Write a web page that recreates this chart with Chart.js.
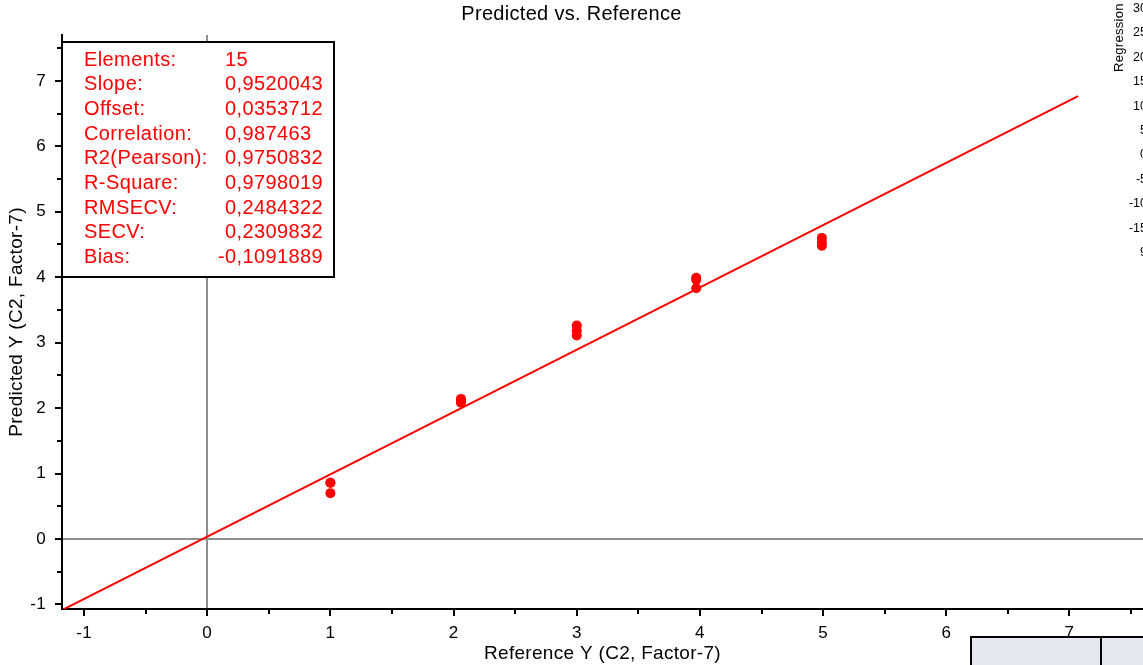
<!DOCTYPE html>
<html>
<head>
<meta charset="utf-8">
<title>Predicted vs. Reference</title>
<script src="https://cdn.jsdelivr.net/npm/chart.js@4/dist/chart.umd.min.js"></script>
<style>
  body { margin: 0; overflow: hidden; background: #fff; width: 1143px; height: 665px; position: relative; }
  #c { position: absolute; left: 0; top: 0; }
  .side { position: absolute; font-family: "Liberation Sans", Arial, sans-serif; color: #000; }
  #regTitle { left: 1080px; top: 30px; font-size: 13px; transform: rotate(-90deg); width: 76px; text-align: center; letter-spacing: 0.3px; }
  #regTicks { left: 1100px; top: -4px; width: 47px; font-size: 12.5px; text-align: right; line-height: 24.4px; }
  .cell { position: absolute; top: 636px; height: 40px; background: #e4e7ef; border: 2px solid #000; box-sizing: border-box; }
</style>
</head>
<body>
<canvas id="c" width="1143" height="665"></canvas>
<div class="side" id="regTitle">Regression</div>
<div class="side" id="regTicks"></div>
<div class="cell" style="left:970px;width:132px"></div>
<div class="cell" style="left:1100px;width:60px"></div>
<script>
// reference values (x) and predicted values (y)
const refY  = [1.0, 1.0, 1.0, 2.06, 2.06, 2.06, 3.0, 3.0, 3.0, 3.97, 3.97, 3.97, 4.99, 4.99, 4.99];
const predY = [0.86, 0.86, 0.70, 2.14, 2.11, 2.08, 3.26, 3.18, 3.11, 3.99, 3.96, 3.83, 4.60, 4.53, 4.48];

// regression line end points
const lineX = [-1.2, 7.07];
const lineY = [-1.107, 6.766];

const xTicks = [-1, 0, 1, 2, 3, 4, 5, 6, 7];
const yTicks = [-1, 0, 1, 2, 3, 4, 5, 6, 7];

const statLabels = ['Elements:', 'Slope:', 'Offset:', 'Correlation:', 'R2(Pearson):', 'R-Square:', 'RMSECV:', 'SECV:', 'Bias:'];
const statValues = ['15', '0,9520043', '0,0353712', '0,987463', '0,9750832', '0,9798019', '0,2484322', '0,2309832', '-0,1091889'];

// the neighbouring regression panel, cut off at the right
const sideTicks = ['30', '25', '20', '15', '10', '5', '0', '-5', '-10', '-15', '9'];
document.getElementById('regTicks').innerHTML = sideTicks.join('<br>');

const FONT = '"Liberation Sans", Arial, sans-serif';
Chart.defaults.font.family = FONT;
Chart.defaults.color = '#000';

// the original font runs a little wider than Liberation Sans
const spacing = {
  id: 'spacing',
  beforeLayout(chart) { chart.ctx.letterSpacing = '0.3px'; },
  beforeDraw(chart) { chart.ctx.letterSpacing = '0.3px'; }
};

const minorTicks = {
  id: 'minorTicks',
  afterDraw(chart) {
    const ctx = chart.ctx;
    const xs = chart.scales.x, ys = chart.scales.y;
    const a = chart.chartArea;
    ctx.save();
    ctx.strokeStyle = '#000';
    ctx.lineWidth = 2;
    ctx.beginPath();
    for (let v = -1.5; v <= xs.max; v += 1) {
      if (v < xs.min) continue;
      const px = Math.round(xs.getPixelForValue(v));
      ctx.moveTo(px, a.bottom);
      ctx.lineTo(px, a.bottom + 5);
    }
    for (let v = -0.5; v <= ys.max; v += 1) {
      if (v < ys.min) continue;
      const py = Math.round(ys.getPixelForValue(v));
      ctx.moveTo(a.left, py);
      ctx.lineTo(a.left - 5, py);
    }
    ctx.stroke();
    ctx.restore();
  }
};

const statsBox = {
  id: 'statsBox',
  afterDraw(chart) {
    const ctx = chart.ctx;
    const a = chart.chartArea;
    const left = a.left, top = 42, w = 272, h = 235;
    ctx.save();
    ctx.fillStyle = '#fff';
    ctx.fillRect(left, top, w, h);
    ctx.strokeStyle = '#000';
    ctx.lineWidth = 2;
    ctx.strokeRect(left, top, w, h);
    ctx.font = '20px ' + FONT;
    ctx.letterSpacing = '0.4px';
    ctx.fillStyle = '#ff0000';
    ctx.textBaseline = 'middle';
    ctx.textAlign = 'left';
    statLabels.forEach((lab, i) => {
      const y = 60 + i * 24.7;
      ctx.fillText(lab, left + 22, y);
      let val = statValues[i];
      let vx = left + 163;
      if (val[0] === '-') vx -= ctx.measureText('-').width;
      ctx.fillText(val, vx, y);
    });
    ctx.restore();
  }
};

new Chart(document.getElementById('c'), {
  type: 'scatter',
  data: {
    datasets: [
      {
        label: 'Samples',
        data: refY.map((x, i) => ({ x: x, y: predY[i] })),
        backgroundColor: '#ff0000',
        borderWidth: 0,
        pointRadius: 5,
        order: 0
      },
      {
        label: 'Regression',
        type: 'line',
        data: lineX.map((x, i) => ({ x: x, y: lineY[i] })),
        borderColor: '#ff0000',
        borderWidth: 2,
        pointRadius: 0,
        fill: false,
        order: 1
      }
    ]
  },
  options: {
    responsive: false,
    animation: false,
    layout: { padding: 0, autoPadding: false },
    plugins: {
      legend: { display: false },
      tooltip: { enabled: false },
      title: {
        display: true,
        text: 'Predicted vs. Reference',
        font: { size: 20, weight: 'normal' },
        padding: { top: 2, bottom: 9 }
      }
    },
    scales: {
      x: {
        type: 'linear',
        min: -1.179,
        max: 7.597,
        afterBuildTicks: s => { s.ticks = xTicks.map(v => ({ value: v })); },
        afterFit: s => { s.height = 56; s.paddingLeft = 0; s.paddingRight = 0; },
        ticks: { font: { size: 17 }, padding: 7, maxRotation: 0, callback: v => v },
        grid: {
          color: c => (c.tick && c.tick.value === 0 ? '#8e8e8e' : 'transparent'),
          lineWidth: 2,
          tickColor: '#000',
          tickLength: 7,
          tickWidth: 2
        },
        border: { display: true, color: '#000', width: 2 },
        title: { display: true, text: 'Reference Y (C2, Factor-7)', font: { size: 19 }, padding: { top: 0, bottom: 0 } }
      },
      y: {
        type: 'linear',
        min: -1.07,
        max: 7.7,
        afterBuildTicks: s => { s.ticks = yTicks.map(v => ({ value: v })); },
        afterFit: s => { s.width = 62; s.paddingTop = 0; s.paddingBottom = 0; },
        ticks: { font: { size: 17 }, padding: 9, callback: v => v },
        grid: {
          color: c => (c.tick && c.tick.value === 0 ? '#8e8e8e' : 'transparent'),
          lineWidth: 2,
          tickColor: '#000',
          tickLength: 7,
          tickWidth: 2
        },
        border: { display: true, color: '#000', width: 2 },
        title: { display: true, text: 'Predicted Y (C2, Factor-7)', font: { size: 19 }, padding: { top: 5, bottom: 0 } }
      }
    }
  },
  plugins: [spacing, minorTicks, statsBox]
});
</script>
</body>
</html>
